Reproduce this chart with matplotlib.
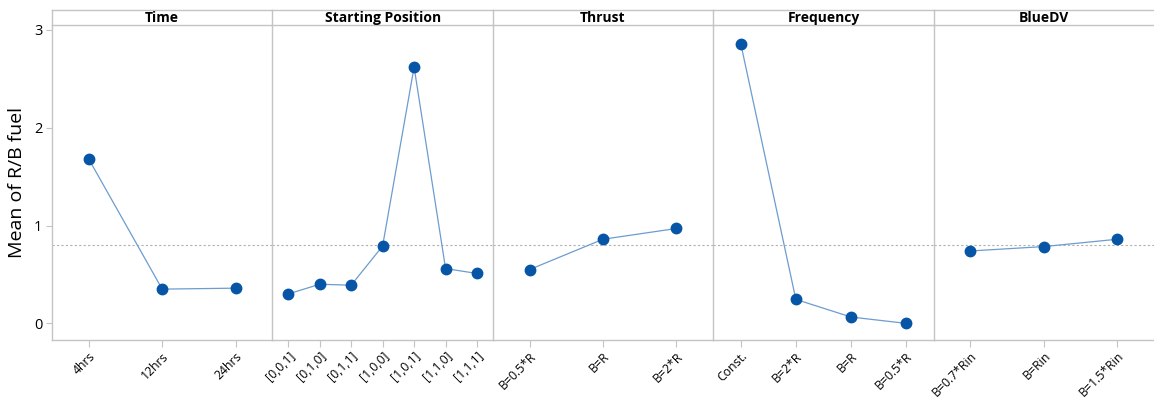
import matplotlib.pyplot as plt
import numpy as np

plt.rcParams['font.family'] = ['Open Sans', 'DejaVu Sans']

# Main effects: mean of R/B fuel per factor level
factors = ["Time", "Starting Position", "Thrust", "Frequency", "BlueDV"]

time_levels = ["4hrs", "12hrs", "24hrs"]
time_means = [1.68, 0.35, 0.36]

start_levels = ["[0,0,1]", "[0,1,0]", "[0,1,1]", "[1,0,0]", "[1,0,1]", "[1,1,0]", "[1,1,1]"]
start_means = [0.30, 0.40, 0.39, 0.79, 2.62, 0.56, 0.51]

thrust_levels = ["B=0.5*R", "B=R", "B=2*R"]
thrust_means = [0.55, 0.86, 0.97]

freq_levels = ["Const.", "B=2*R", "B=R", "B=0.5*R"]
freq_means = [2.86, 0.245, 0.065, 0.0]

bluedv_levels = ["B=0.7*Rin", "B=Rin", "B=1.5*Rin"]
bluedv_means = [0.74, 0.785, 0.86]

grand_mean = 0.80

levels = [time_levels, start_levels, thrust_levels, freq_levels, bluedv_levels]
means = [time_means, start_means, thrust_means, freq_means, bluedv_means]

frame_col = "#c4c4c4"
marker_col = "#0755a6"
line_col = "#6d9ccf"

fig = plt.figure(figsize=(11.54, 3.98), dpi=100)
fig.patch.set_facecolor("white")

left, right = 52 / 1154, 1.0
bottom, top = 1 - 340 / 398, 1 - 25 / 398
strip_top = 1 - 10 / 398
pw = (right - left) / len(factors)

for i, (name, labs, vals) in enumerate(zip(factors, levels, means)):
    x0 = left + i * pw
    ax = fig.add_axes([x0, bottom, pw, top - bottom])
    ax.set_facecolor("white")
    x = np.arange(len(labs))
    ax.axhline(grand_mean, color="#b0b0b0", lw=0.8, ls=(0, (2, 2)), zorder=1)
    ax.plot(x, vals, color=line_col, lw=0.9, zorder=2)
    ax.plot(x, vals, "o", color=marker_col, ms=7.5, zorder=3)
    ax.set_xlim(-0.5, len(labs) - 0.5)
    ax.set_ylim(-0.17, 3.05)
    ax.set_xticks(x)
    ax.set_xticklabels(labs, rotation=45, ha="right", rotation_mode="anchor", fontsize=8.8)
    ax.tick_params(axis="x", length=5, color=frame_col, pad=2)
    for s in ["top", "right"]:
        ax.spines[s].set_visible(False)
    for s in ["left", "bottom"]:
        ax.spines[s].set_color(frame_col)
        ax.spines[s].set_linewidth(1.0)
    if i == 0:
        ax.set_yticks([0, 1, 2, 3])
        ax.tick_params(axis="y", length=4, color=frame_col, labelsize=10.5, pad=3)
        ax.set_ylabel("Mean of R/B fuel", fontsize=14, labelpad=6)
    else:
        ax.set_yticks([])

    # factor name strip above each panel
    sx = fig.add_axes([x0, top, pw, strip_top - top])
    sx.set_xticks([])
    sx.set_yticks([])
    sx.set_facecolor("white")
    for s in ["top", "bottom", "left"]:
        sx.spines[s].set_color(frame_col)
        sx.spines[s].set_linewidth(1.0)
    sx.spines["right"].set_visible(False)
    sx.text(0.5, 0.45, name, ha="center", va="center", fontsize=10,
            fontweight="bold", transform=sx.transAxes)

fig.savefig("out.png", dpi=100)
